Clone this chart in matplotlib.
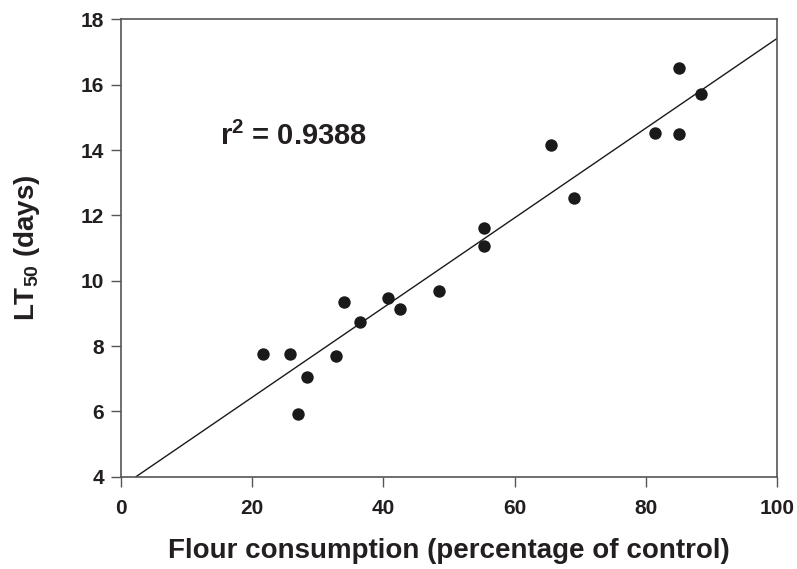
import matplotlib
matplotlib.use("Agg")
import matplotlib.pyplot as plt
import numpy as np

plt.rcParams['font.family'] = ['Liberation Sans', 'DejaVu Sans']
plt.rcParams['font.weight'] = 'bold'
plt.rcParams['mathtext.fontset'] = 'custom'
plt.rcParams['mathtext.rm'] = 'Liberation Sans:bold'
plt.rcParams['mathtext.it'] = 'Liberation Sans:bold'
plt.rcParams['mathtext.bf'] = 'Liberation Sans:bold'

flour = [21.6, 25.7, 27.0, 28.3, 32.7, 34.0, 36.5, 40.7, 42.6, 48.5,
         55.3, 55.3, 65.5, 69.0, 81.4, 85.1, 85.1, 88.4]
lt50 = [7.76, 7.75, 5.93, 7.04, 7.70, 9.36, 8.75, 9.46, 9.12, 9.68,
        11.60, 11.07, 14.15, 12.53, 14.51, 16.51, 14.48, 15.71]

fit_slope = 0.1373
fit_intercept = 3.686
r_squared = "0.9388"

xticks = [0, 20, 40, 60, 80, 100]
yticks = [4, 6, 8, 10, 12, 14, 16, 18]

text_color = '#231f20'
spine_color = '#555555'

fig = plt.figure(figsize=(7.97, 5.69), dpi=100)
ax = fig.add_axes([0.1518, 0.1622, 0.8232, 0.8038])

xs = np.array([(4 - fit_intercept) / fit_slope, 100])
ax.plot(xs, fit_intercept + fit_slope * xs, color='#1a1a1a', lw=1.0, zorder=2)
ax.scatter(flour, lt50, s=80, color='#1a1a1a', zorder=3, linewidths=0)

ax.set_xlim(0, 100)
ax.set_ylim(4, 18)
ax.set_xticks(xticks)
ax.set_yticks(yticks)
ax.tick_params(direction='out', length=7, width=1.0, color=spine_color,
               labelsize=15, labelcolor=text_color)
ax.tick_params(axis='x', pad=9)
ax.tick_params(axis='y', pad=5)
for lab in ax.get_xticklabels() + ax.get_yticklabels():
    lab.set_fontweight('bold')
for sp in ax.spines.values():
    sp.set_color(spine_color)
    sp.set_linewidth(1.2)

ax.set_xlabel('Flour consumption (percentage of control)', fontsize=20,
              fontweight='bold', color=text_color)
ax.set_ylabel('LT$_{50}$ (days)', fontsize=20, fontweight='bold',
              color=text_color)
ax.xaxis.set_label_coords(0.5, -0.133)
ax.yaxis.set_label_coords(-0.12, 0.5)

ax.text(15.1, 14.15, 'r$^{2}$ = ' + r_squared, fontsize=21, fontweight='bold',
        color=text_color, ha='left', va='baseline')

fig.savefig('out.png', dpi=100)
